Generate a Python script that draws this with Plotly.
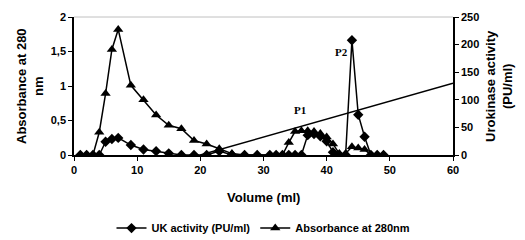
import plotly.graph_objects as go

volume = [1, 2, 3, 4, 5, 6, 7, 9, 11, 13, 15, 17, 19, 21, 23, 25, 27, 29, 31, 32, 33, 34,
          35, 36, 37, 38, 39, 40, 41, 42, 43, 44, 45, 46, 47, 48, 49]
absorbance = [0, 0, 0, 0.33, 0.89, 1.53, 1.82, 1.01, 0.80, 0.58, 0.43, 0.38, 0.21, 0.16, 0.09,
              0.02, 0, 0, 0, 0, 0, 0.18, 0.34, 0.35, 0.35, 0.34, 0.31, 0.26, 0.16, 0.02, 0.02,
              0.12, 0.10, 0.08, 0, 0, 0]
uk_activity = [0, 0, 0, 0, 24, 29, 31, 18, 10, 7, 3, 0, 0, 0, 7, 0, 0, 0, 0, 0, 0, 0,
               0, 0, 36, 38, 34, 25, 5, 0, 0, 208, 73, 33, 0, 0, 0]
gradient_x = [20, 60]
gradient_y = [0, 130]

left_ticks = [0, 0.5, 1, 1.5, 2]
left_ticktext = ["0", "0,5", "1", "1,5", "2"]

FONT = "Liberation Sans, Arial, sans-serif"
SERIF = "Liberation Serif, Times New Roman, serif"

fig = go.Figure()
fig.add_trace(go.Scatter(
    x=gradient_x, y=gradient_y, yaxis="y2", mode="lines",
    line=dict(color="black", width=1.5), showlegend=False, hoverinfo="skip"))
fig.add_trace(go.Scatter(
    x=volume, y=uk_activity, yaxis="y2", mode="lines+markers", name="UK activity (PU/ml)",
    line=dict(color="black", width=1.5),
    marker=dict(symbol="diamond", size=8, color="black")))
fig.add_trace(go.Scatter(
    x=volume, y=absorbance, yaxis="y", mode="lines+markers", name="Absorbance at 280nm",
    line=dict(color="black", width=1.5),
    marker=dict(symbol="triangle-up", size=9, color="black")))

axis_common = dict(showline=True, linecolor="black", linewidth=1.5,
                   ticks="outside", ticklen=4, tickcolor="black", showgrid=False,
                   zeroline=False, tickfont=dict(family=FONT, size=11, weight="bold"))

fig.update_layout(
    width=525, height=240,
    margin=dict(l=66, r=80, t=9, b=93, autoexpand=False),
    paper_bgcolor="white", plot_bgcolor="white",
    font=dict(family=FONT, size=11, color="black"),
    xaxis=dict(range=[0, 60], tickvals=[0, 10, 20, 30, 40, 50, 60], **axis_common),
    yaxis=dict(range=[0, 2], tickvals=left_ticks, ticktext=left_ticktext, **axis_common),
    yaxis2=dict(range=[0, 250], tickvals=[0, 50, 100, 150, 200, 250],
                overlaying="y", side="right", **axis_common),
    legend=dict(orientation="h", x=0.5, xanchor="center", yref="container",
                y=0.083, yanchor="middle",
                font=dict(family=FONT, size=11, weight="bold"),
                bgcolor="rgba(0,0,0,0)"),
    showlegend=True,
)

fig.add_shape(type="line", xref="paper", yref="paper", x0=0, x1=1, y0=1, y1=1,
              line=dict(color="#c0c0c0", width=1), layer="below")

fig.add_annotation(text="Absorbance at 280<br>nm", xref="paper", yref="paper",
                   x=0, y=0.5, xshift=-44, xanchor="center", yanchor="middle",
                   textangle=-90, showarrow=False,
                   font=dict(family=FONT, size=13, weight="bold"))
fig.add_annotation(text="Urokinase activity<br>(PU/ml)", xref="paper", yref="paper",
                   x=1, y=0.5, xshift=46, xanchor="center", yanchor="middle",
                   textangle=-90, showarrow=False,
                   font=dict(family=FONT, size=13, weight="bold"))
fig.add_annotation(text="Volume (ml)", xref="paper", yref="paper",
                   x=0.5, y=0, yshift=-42, xanchor="center", yanchor="middle",
                   showarrow=False, font=dict(family=FONT, size=13, weight="bold"))
fig.add_annotation(text="P1", x=35.8, y=0.65, xref="x", yref="y", showarrow=False,
                   font=dict(family=SERIF, size=11, weight="bold"))
fig.add_annotation(text="P2", x=42.4, y=1.49, xref="x", yref="y", showarrow=False,
                   font=dict(family=SERIF, size=11, weight="bold"))

fig.write_html("out.html")
